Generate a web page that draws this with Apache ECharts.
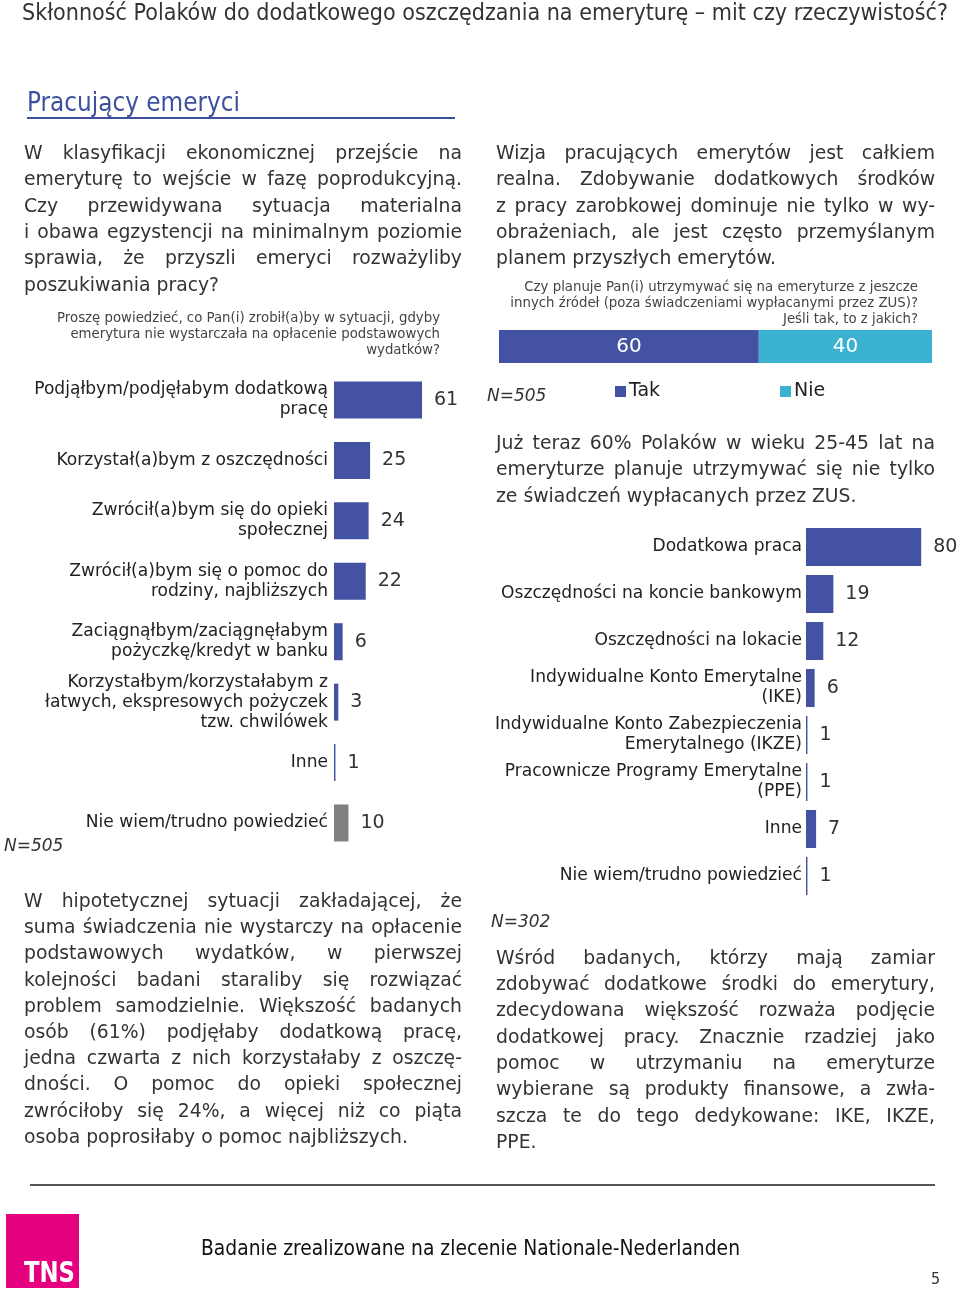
<!DOCTYPE html>
<html>
<head>
<meta charset="utf-8">
<script src="https://cdn.jsdelivr.net/npm/echarts@6.0.0/dist/echarts.min.js"></script>
<style>
  html, body { margin: 0; padding: 0; background: #fff; }
  #page { position: relative; width: 960px; height: 1295px; overflow: hidden; background: #fff; }
  #chart { position: absolute; left: 0; top: 0; width: 960px; height: 1295px; }
  .t { position: absolute; white-space: pre; color: #333; }
  .body { font-family: 'DejaVu Sans', Verdana, sans-serif; font-size: 18.8px; }
  .jl { display: flex; justify-content: space-between; }
  .q { font-family: 'DejaVu Sans', Verdana, sans-serif; font-size: 13.3px; color: #444; text-align: right; }
  .narrow { font-family: 'Liberation Sans Narrow', 'DejaVu Sans Condensed', 'Liberation Sans', sans-serif; transform-origin: 0 50%; }
  .n { font-family: 'DejaVu Sans', Verdana, sans-serif; font-style: italic; font-size: 17px; color: #333; }
</style>
</head>
<body>
<div id="page">
  <div id="chart"></div>
</div>
<script>
// ---------------- DATA ----------------
const leftCategories = [
  'Podjąłbym/podjęłabym dodatkową\npracę',
  'Korzystał(a)bym z oszczędności',
  'Zwrócił(a)bym się do opieki\nspołecznej',
  'Zwrócił(a)bym się o pomoc do\nrodziny, najbliższych',
  'Zaciągnąłbym/zaciągnęłabym\npożyczkę/kredyt w banku',
  'Korzystałbym/korzystałabym z\nłatwych, ekspresowych pożyczek\ntzw. chwilówek',
  'Inne',
  'Nie wiem/trudno powiedzieć'
];
const leftValues = [61, 25, 24, 22, 6, 3, 1, 10];

const planNames = ['Tak', 'Nie'];
const planValues = [60, 40];

const rightCategories = [
  'Dodatkowa praca',
  'Oszczędności na koncie bankowym',
  'Oszczędności na lokacie',
  'Indywidualne Konto Emerytalne\n(IKE)',
  'Indywidualne Konto Zabezpieczenia\nEmerytalnego (IKZE)',
  'Pracownicze Programy Emerytalne\n(PPE)',
  'Inne',
  'Nie wiem/trudno powiedzieć'
];
const rightValues = [80, 19, 12, 6, 1, 1, 7, 1];

// ---------------- TEXTS ----------------
const pageTitle = 'Skłonność Polaków do dodatkowego oszczędzania na emeryturę – mit czy rzeczywistość?';
const sectionTitle = 'Pracujący emeryci';
const footerText = 'Badanie zrealizowane na zlecenie Nationale-Nederlanden';

const introLeft = [
  'W klasyfikacji ekonomicznej przejście na',
  'emeryturę to wejście w fazę poprodukcyjną.',
  'Czy przewidywana sytuacja materialna',
  'i obawa egzystencji na minimalnym poziomie',
  'sprawia, że przyszli emeryci rozważyliby',
  'poszukiwania pracy?'
];
const questionLeft = [
  'Proszę powiedzieć, co Pan(i) zrobił(a)by w sytuacji, gdyby',
  'emerytura nie wystarczała na opłacenie podstawowych',
  'wydatków?'
];
const introRight = [
  'Wizja pracujących emerytów jest całkiem',
  'realna. Zdobywanie dodatkowych środków',
  'z pracy zarobkowej dominuje nie tylko w wy-',
  'obrażeniach, ale jest często przemyślanym',
  'planem przyszłych emerytów.'
];
const questionRight = [
  'Czy planuje Pan(i) utrzymywać się na emeryturze z jeszcze',
  'innych źródeł (poza świadczeniami wypłacanymi przez ZUS)?',
  'Jeśli tak, to z jakich?'
];
const midRight = [
  'Już teraz 60% Polaków w wieku 25-45 lat na',
  'emeryturze planuje utrzymywać się nie tylko',
  'ze świadczeń wypłacanych przez ZUS.'
];
const bottomLeft = [
  'W hipotetycznej sytuacji zakładającej, że',
  'suma świadczenia nie wystarczy na opłacenie',
  'podstawowych wydatków, w pierwszej',
  'kolejności badani staraliby się rozwiązać',
  'problem samodzielnie. Większość badanych',
  'osób (61%) podjęłaby dodatkową pracę,',
  'jedna czwarta z nich korzystałaby z oszczę-',
  'dności. O pomoc do opieki społecznej',
  'zwróciłoby się 24%, a więcej niż co piąta',
  'osoba poprosiłaby o pomoc najbliższych.'
];
const bottomRight = [
  'Wśród badanych, którzy mają zamiar',
  'zdobywać dodatkowe środki do emerytury,',
  'zdecydowana większość rozważa podjęcie',
  'dodatkowej pracy. Znacznie rzadziej jako',
  'pomoc w utrzymaniu na emeryturze',
  'wybierane są produkty finansowe, a zwła-',
  'szcza te do tego dedykowane: IKE, IKZE,',
  'PPE.'
];

// ---------------- HTML TEXT LAYOUT ----------------
const page = document.getElementById('page');
function el(cls, text, css) {
  const d = document.createElement('div');
  d.className = 't ' + cls;
  d.textContent = text;
  Object.assign(d.style, css);
  page.appendChild(d);
  return d;
}
function justified(lines, x, y0, w, lh) {
  lines.forEach((line, i) => {
    const top = (y0 + i * lh - lh / 2) + 'px';
    const d = document.createElement('div');
    d.className = 't body';
    Object.assign(d.style, { left: x + 'px', top: top, width: w + 'px', height: lh + 'px', lineHeight: lh + 'px' });
    if (i < lines.length - 1) {
      d.classList.add('jl');
      line.split(' ').forEach(word => {
        const s = document.createElement('span');
        s.textContent = word;
        d.appendChild(s);
      });
    } else {
      d.textContent = line;
    }
    page.appendChild(d);
  });
}
function rightLines(lines, xRight, y0, lh) {
  lines.forEach((line, i) => {
    el('q', line, { right: (960 - xRight) + 'px', top: (y0 + i * lh - lh / 2) + 'px', lineHeight: lh + 'px' });
  });
}
function fit(d, w) {
  const r = d.getBoundingClientRect().width;
  if (r > 0) d.style.transform = 'scaleX(' + (w / r) + ')';
}

const h1 = el('narrow', pageTitle, { left: '22px', top: '-1px', fontSize: '23.5px', lineHeight: '26px', color: '#333' });
const h2 = el('narrow', sectionTitle, { left: '27px', top: '86px', fontSize: '27px', lineHeight: '31px', color: '#3f4fa0' });
const underline = document.createElement('div');
Object.assign(underline.style, { position: 'absolute', left: '27px', top: '117px', width: '428px', height: '1.5px', background: '#3f4fa0' });
page.appendChild(underline);

justified(introLeft, 24, 153, 438, 26.4);
rightLines(questionLeft, 440, 318, 15.8);
justified(introRight, 496, 153, 439, 26.4);
rightLines(questionRight, 918, 287, 15.8);
justified(midRight, 496, 443, 439, 26.4);
justified(bottomLeft, 24, 901, 438, 26.22);
justified(bottomRight, 496, 958, 439, 26.3);

el('n', 'N=505', { left: '4px', top: '835px', lineHeight: '20px' });
el('n', 'N=505', { left: '487px', top: '385px', lineHeight: '20px' });
el('n', 'N=302', { left: '491px', top: '911px', lineHeight: '20px' });

const rule = document.createElement('div');
Object.assign(rule.style, { position: 'absolute', left: '30px', top: '1184px', width: '905px', height: '2px', background: '#555' });
page.appendChild(rule);

const logo = document.createElement('div');
Object.assign(logo.style, { position: 'absolute', left: '6px', top: '1214px', width: '73px', height: '74px', background: '#e4007f' });
page.appendChild(logo);
const tns = el('narrow', 'TNS', { left: '24px', top: '1258px', fontSize: '28px', lineHeight: '30px', color: '#fff', fontWeight: 'bold' });
const foot = el('narrow', footerText, { left: '201px', top: '1236px', fontSize: '21px', lineHeight: '25px', color: '#111' });
el('narrow', '5', { left: '931px', top: '1270px', fontSize: '16px', lineHeight: '18px', color: '#333' });

fit(h1, 926);
fit(h2, 213);
fit(foot, 539);
fit(tns, 51);

// ---------------- CHART ----------------
const BLUE = '#4452a3';
const CYAN = '#3bb2cf';
const GRAY = '#7f7f7f';
const FONT = 'DejaVu Sans';

const chart = echarts.init(document.getElementById('chart'), null, { renderer: 'canvas' });
const valueLabel = { show: true, position: 'right', distance: 12, fontSize: 19, color: '#333', fontFamily: FONT };
const catAxis = (cats, margin, idx) => ({
  type: 'category', gridIndex: idx, data: cats, inverse: true,
  axisLine: { show: false }, axisTick: { show: false }, splitLine: { show: false },
  axisLabel: { margin: margin, fontSize: 17.1, lineHeight: 20, color: '#222', fontFamily: FONT, align: 'right' }
});
const valAxis = (idx) => ({ type: 'value', gridIndex: idx, min: 0, max: 100, show: false, splitLine: { show: false } });

chart.setOption({
  animation: false,
  backgroundColor: 'transparent',
  grid: [
    { left: 334, top: 369.8, width: 144.3, height: 483.4 },
    { left: 499, top: 330, width: 433, height: 33 },
    { left: 806, top: 523.5, width: 144, height: 376 }
  ],
  legend: [
    { data: [planNames[0]], left: 610, top: 377, itemWidth: 11, itemHeight: 11, itemGap: 0, icon: 'rect',
      textStyle: { fontSize: 19, color: '#222', fontFamily: FONT, padding: [0, 0, 0, -2] } },
    { data: [planNames[1]], left: 775, top: 377, itemWidth: 11, itemHeight: 11, itemGap: 0, icon: 'rect',
      textStyle: { fontSize: 19, color: '#222', fontFamily: FONT, padding: [0, 0, 0, -2] } }
  ],
  xAxis: [valAxis(0), valAxis(1), valAxis(2)],
  yAxis: [
    catAxis(leftCategories, 6, 0),
    { type: 'category', gridIndex: 1, data: ['plan'], show: false },
    catAxis(rightCategories, 4, 2)
  ],
  series: [
    {
      type: 'bar', xAxisIndex: 0, yAxisIndex: 0, data: leftValues, barWidth: 37,
      itemStyle: { color: p => (p.name === 'Nie wiem/trudno powiedzieć' ? GRAY : BLUE) },
      label: valueLabel
    },
    {
      name: planNames[0], type: 'bar', stack: 'plan', xAxisIndex: 1, yAxisIndex: 1, data: [planValues[0]], barWidth: 33,
      itemStyle: { color: BLUE },
      label: { show: true, position: 'inside', color: '#fff', fontSize: 20, fontFamily: FONT }
    },
    {
      name: planNames[1], type: 'bar', stack: 'plan', xAxisIndex: 1, yAxisIndex: 1, data: [planValues[1]], barWidth: 33,
      itemStyle: { color: CYAN },
      label: { show: true, position: 'inside', color: '#fff', fontSize: 20, fontFamily: FONT }
    },
    {
      type: 'bar', xAxisIndex: 2, yAxisIndex: 2, data: rightValues, barWidth: 38,
      itemStyle: { color: BLUE },
      label: valueLabel
    }
  ]
});
</script>
</body>
</html>
